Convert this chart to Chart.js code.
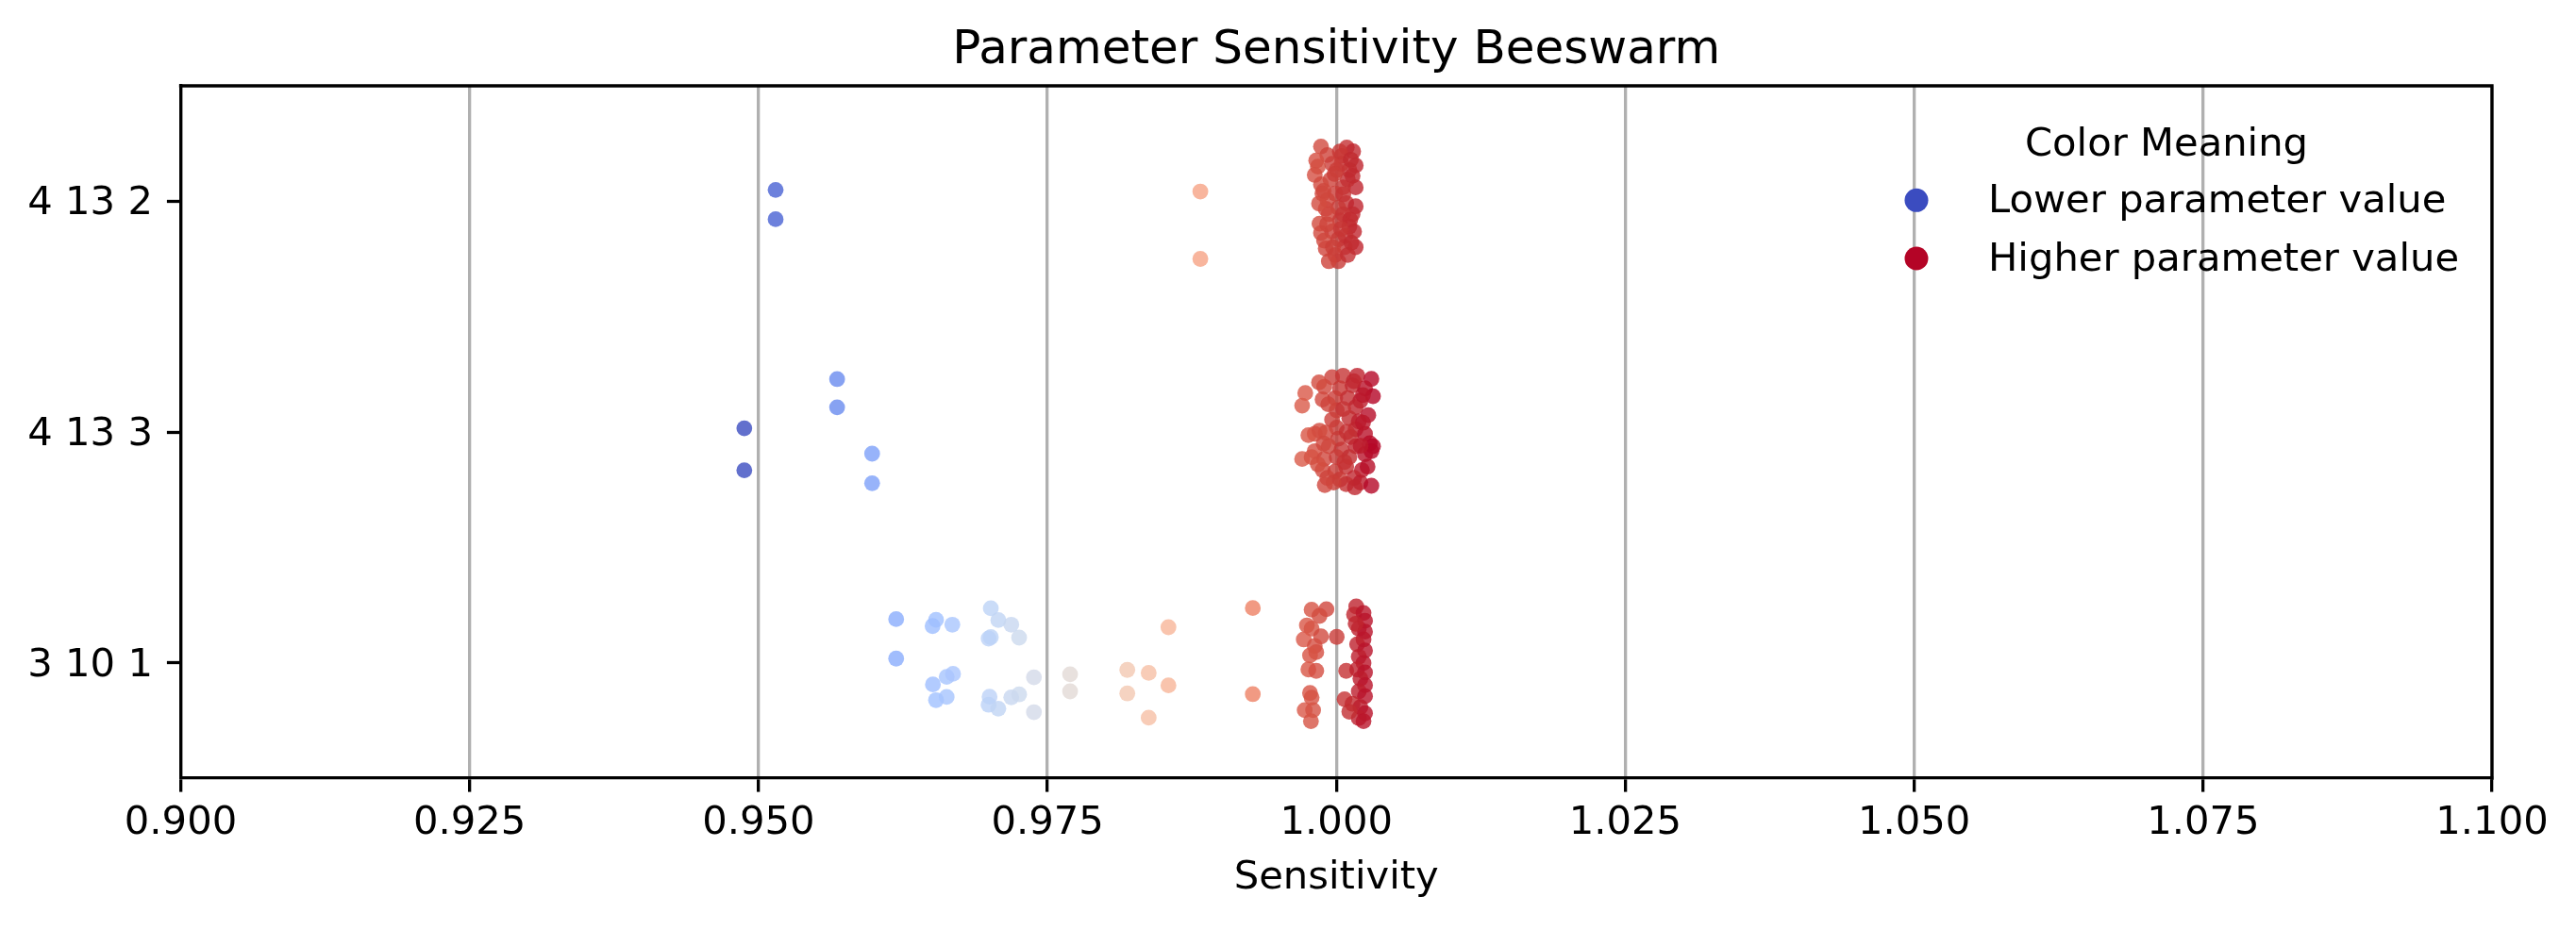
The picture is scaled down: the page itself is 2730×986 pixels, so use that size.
<!DOCTYPE html>
<html>
<head>
<meta charset="utf-8">
<script src="https://cdn.jsdelivr.net/npm/chart.js@4.4.1/dist/chart.umd.min.js"></script>
<style>
  html, body { margin: 0; padding: 0; background: #ffffff; }
  canvas { display: block; }
</style>
</head>
<body>
<canvas id="c" width="2730" height="986"></canvas>
<script>
// ---------------- data ----------------
const chartTitle = 'Parameter Sensitivity Beeswarm';
const xAxisTitle = 'Sensitivity';
const legendTitle = 'Color Meaning';
const legendLabels = ['Lower parameter value', 'Higher parameter value'];
const rowLabels = ['4 13 2', '4 13 3', '3 10 1'];
const xTickValues = [0.900, 0.925, 0.950, 0.975, 1.000, 1.025, 1.050, 1.075, 1.100];

// row "4 13 2": sensitivity values and strip jitter (category units)
const sens_4_13_2 = [0.95148, 0.95148, 0.98823, 0.98823,
  0.99867, 1.00090, 1.00145, 1.00044, 0.99922, 0.99826, 1.00167, 1.00112, 1.00003, 0.99813,
  0.99949, 0.99867, 1.00167, 1.00058, 0.99880, 0.99990, 0.99922, 1.00085, 1.00167, 1.00017,
  1.00140, 0.99935, 1.00031, 0.99854, 1.00112, 1.00153, 0.99867, 0.99963, 0.99894, 1.00017,
  1.00167, 1.00071, 0.99908, 0.99990, 1.00017, 1.00099, 0.99935, 1.00044, 0.99963, 1.00099,
  0.99908, 1.00058,
  0.99840, 1.00030, 1.00125, 0.99985, 1.00140, 1.00060, 0.99850, 1.00120, 0.99920, 1.00080,
  1.00130, 0.99970, 1.00040, 0.99890];
const jit_4_13_2 = [-0.049, 0.078, -0.042, 0.250,
  -0.237, -0.233, -0.216, -0.196, -0.200, -0.176, -0.155, -0.135, -0.135, -0.114,
  -0.094, -0.073, -0.060, -0.060, -0.033, -0.033, -0.005, 0.008, 0.022, 0.029,
  0.056, 0.056, 0.083, 0.097, 0.110, 0.131, 0.138, 0.131, 0.171, 0.165,
  0.199, 0.199, 0.205, 0.233, 0.260, 0.233, 0.260, -0.162, -0.162, -0.094,
  0.033, 0.056,
  -0.150, -0.215, -0.180, -0.118, -0.110, -0.030, 0.010, 0.080, 0.100, 0.150,
  0.180, 0.200, 0.120, -0.045];

// row "4 13 3"
const sens_4_13_3 = [0.95680, 0.95680, 0.94877, 0.94877, 0.95983, 0.95983,
  0.99731, 0.99704, 0.99963, 1.00058, 1.00181, 1.00303, 0.99895, 1.00031, 1.00140, 1.00248,
  1.00317, 0.99881, 0.99990, 1.00099, 1.00208, 1.00003, 1.00167, 1.00276, 0.99963, 1.00112,
  1.00194, 1.00003, 1.00167, 0.99813, 0.99908, 1.00017, 1.00126, 1.00248, 1.00289, 1.00317,
  0.99813, 0.99935, 1.00044, 1.00167, 0.99704, 0.99786, 0.99894, 1.00003, 1.00112, 1.00248,
  1.00303, 0.99881, 0.99990, 1.00085, 1.00221, 0.99922, 1.00031, 1.00153, 1.00208, 1.00303,
  1.00085, 0.99976, 0.99758, 0.99854,
  0.99850, 1.00150, 1.00230, 0.99930, 1.00060, 1.00230, 1.00090, 0.99890, 1.00210, 1.00070,
  0.99840, 1.00270, 1.00160, 0.99900];
const jit_4_13_3 = [-0.229, -0.107, -0.016, 0.166, 0.094, 0.222,
  -0.169, -0.114, -0.237, -0.244, -0.244, -0.230, -0.196, -0.189, -0.202, -0.189,
  -0.155, -0.141, -0.147, -0.147, -0.135, -0.094, -0.108, -0.073, -0.053, -0.060,
  -0.046, -0.019, -0.012, 0.008, 0.003, 0.029, 0.022, 0.008, 0.049, 0.062,
  0.083, 0.062, 0.076, 0.062, 0.117, 0.109, 0.117, 0.109, 0.109, 0.096,
  0.083, 0.165, 0.171, 0.151, 0.165, 0.199, 0.206, 0.199, 0.219, 0.233,
  0.226, 0.219, 0.014, -0.006,
  -0.215, -0.220, -0.160, -0.120, -0.100, -0.040, 0.000, 0.050, 0.060, 0.130,
  0.140, 0.150, 0.240, 0.230];

// row "3 10 1"
const sens_3_10_1 = [0.96191, 0.96191, 0.96536, 0.96506, 0.96677, 0.97010, 0.97075, 0.97187,
  0.97255, 0.97010, 0.96991, 0.96509, 0.96628, 0.96683, 0.96536, 0.96628, 0.96999, 0.96991,
  0.97075, 0.97187, 0.97255, 0.97383, 0.97383, 0.97696, 0.97696, 0.98191, 0.98191, 0.98376,
  0.98376, 0.98547, 0.98547, 0.99277, 0.99277,
  0.99786, 0.99914, 0.99854, 0.99745, 0.99786, 0.99867, 0.99718, 0.99813, 0.99826, 0.99772,
  0.99758, 0.99826, 0.99772, 0.99726, 0.99799, 0.99780, 0.99786,
  1.00003, 1.00085, 1.00071,
  1.00172, 1.00153, 1.00235, 1.00248, 1.00194, 1.00248, 1.00235, 1.00180, 1.00248, 1.00194,
  1.00235, 1.00180, 1.00248, 1.00208, 1.00248, 1.00194, 1.00248, 1.00140, 1.00208, 1.00248,
  1.00194, 1.00235, 1.00112, 1.00167];
const jit_3_10_1 = [-0.189, -0.018, -0.186, -0.159, -0.165, -0.236, -0.185, -0.165,
  -0.109, -0.111, -0.105, 0.094, 0.061, 0.048, 0.162, 0.148, 0.147, 0.182,
  0.199, 0.150, 0.137, 0.063, 0.214, 0.050, 0.124, 0.031, 0.133, 0.044,
  0.238, -0.154, 0.098, -0.237, 0.136,
  -0.230, -0.232, -0.203, -0.162, -0.148, -0.114, -0.101, -0.073, -0.046, -0.032,
  0.029, 0.035, 0.131, 0.205, 0.205, 0.253, 0.151,
  -0.112, 0.035, 0.158,
  -0.244, -0.209, -0.216, -0.182, -0.148, -0.135, -0.101, -0.080, -0.053, -0.026,
  0.001, 0.029, 0.042, 0.069, 0.097, 0.124, 0.145, 0.178, 0.192, 0.219,
  0.240, 0.253, 0.212, -0.169];

// ---------------- colour map (coolwarm) ----------------
const coolwarmStops = [
  [59,76,192],[68,90,204],[77,104,215],[87,117,225],[98,130,234],[108,142,241],[119,154,247],
  [130,165,251],[141,176,254],[152,185,255],[163,194,255],[174,201,253],[184,208,249],
  [194,213,244],[204,217,238],[213,219,230],[221,221,221],[229,216,209],[236,211,197],
  [241,204,184],[245,196,172],[247,187,160],[247,177,148],[247,166,135],[244,154,123],
  [241,141,111],[236,127,99],[229,112,88],[222,96,77],[213,80,66],[203,62,56],[192,40,47],[180,4,38]];
function coolwarm(t, alpha) {
  t = Math.max(0, Math.min(1, t));
  const f = t * (coolwarmStops.length - 1);
  const i = Math.min(Math.floor(f), coolwarmStops.length - 2);
  const u = f - i;
  const a = coolwarmStops[i], b = coolwarmStops[i + 1];
  const c = a.map((v, k) => Math.round(v + (b[k] - v) * u));
  return `rgba(${c[0]},${c[1]},${c[2]},${alpha})`;
}
const allSens = sens_4_13_2.concat(sens_4_13_3, sens_3_10_1);
const sMin = Math.min(...allSens), sMax = Math.max(...allSens);

const rows = [[sens_4_13_2, jit_4_13_2], [sens_4_13_3, jit_4_13_3], [sens_3_10_1, jit_3_10_1]];
const datasets = rows.map(([s, j], r) => ({
  label: rowLabels[r],
  data: s.map((v, i) => ({ x: v, y: r + j[i] })),
  backgroundColor: ctx => ctx.raw ? coolwarm((ctx.raw.x - sMin) / (sMax - sMin), 0.8) : 'rgba(0,0,0,0)',
  borderWidth: 0,
  pointRadius: 8.4,
  pointHoverRadius: 8.4
}));

// ---------------- styles ----------------
const FONT = 'DejaVu Sans';
const TICK_PX = 41.7;
const LW = 3.3;
Chart.defaults.font.family = FONT;
Chart.defaults.color = '#000';

const decor = {
  id: 'decor',
  afterDraw(chart) {
    const { ctx, chartArea: a } = chart;
    ctx.save();
    ctx.strokeStyle = '#000';
    ctx.lineWidth = LW;
    ctx.lineCap = 'square';
    ctx.beginPath();
    ctx.moveTo(a.left, a.top);
    ctx.lineTo(a.right, a.top);
    ctx.lineTo(a.right, a.bottom);
    ctx.stroke();

    ctx.fillStyle = '#000';
    ctx.textBaseline = 'alphabetic';
    ctx.textAlign = 'center';
    ctx.font = `50px "${FONT}"`;
    ctx.fillText(chartTitle, (a.left + a.right) / 2, a.top - 24.5);

    ctx.font = `${TICK_PX}px "${FONT}"`;
    ctx.fillText(legendTitle, a.right - 345, a.top + 74);
    const colors = ['#3b4cc0', '#b40426'];
    const ys = [121.3, 183];
    ctx.textAlign = 'left';
    legendLabels.forEach((t, i) => {
      ctx.fillStyle = colors[i];
      ctx.beginPath();
      ctx.arc(a.right - 610, a.top + ys[i], 12.5, 0, Math.PI * 2);
      ctx.fill();
      ctx.fillStyle = '#000';
      ctx.fillText(t, a.right - 534, a.top + ys[i] + 12.8);
    });
    ctx.restore();
  }
};

new Chart(document.getElementById('c'), {
  type: 'scatter',
  data: { datasets },
  options: {
    responsive: false,
    animation: false,
    devicePixelRatio: 1,
    layout: { padding: { top: 91, right: 89, left: 0, bottom: 0 } },
    plugins: { legend: { display: false }, tooltip: { enabled: false }, title: { display: false } },
    scales: {
      x: {
        type: 'linear', min: 0.9, max: 1.1,
        afterBuildTicks: axis => { axis.ticks = xTickValues.map(v => ({ value: v })); },
        afterFit: scale => { scale.height = 161; },
        ticks: {
          font: { size: TICK_PX, family: FONT }, color: '#000', padding: 9,
          maxRotation: 0, autoSkip: false,
          callback: v => Number(v).toFixed(3)
        },
        grid: { color: '#b0b0b0', lineWidth: LW, tickColor: '#000', tickLength: 14.6, tickWidth: LW },
        border: { display: true, color: '#000', width: LW },
        title: { display: true, text: xAxisTitle, font: { size: TICK_PX, family: FONT }, color: '#000', padding: { top: 0, bottom: 29.5 } }
      },
      y: {
        type: 'linear', min: -0.5, max: 2.5, reverse: true,
        afterBuildTicks: axis => { axis.ticks = rowLabels.map((_, i) => ({ value: i })); },
        afterFit: scale => { scale.width = 191.5; },
        ticks: {
          font: { size: TICK_PX, family: FONT }, color: '#000', padding: 15,
          autoSkip: false, labelOffset: 3,
          callback: v => rowLabels[v] !== undefined ? rowLabels[v] : ''
        },
        grid: { drawOnChartArea: false, tickColor: '#000', tickLength: 14.6, tickWidth: LW },
        border: { display: true, color: '#000', width: LW }
      }
    }
  },
  plugins: [decor]
});
</script>
</body>
</html>
